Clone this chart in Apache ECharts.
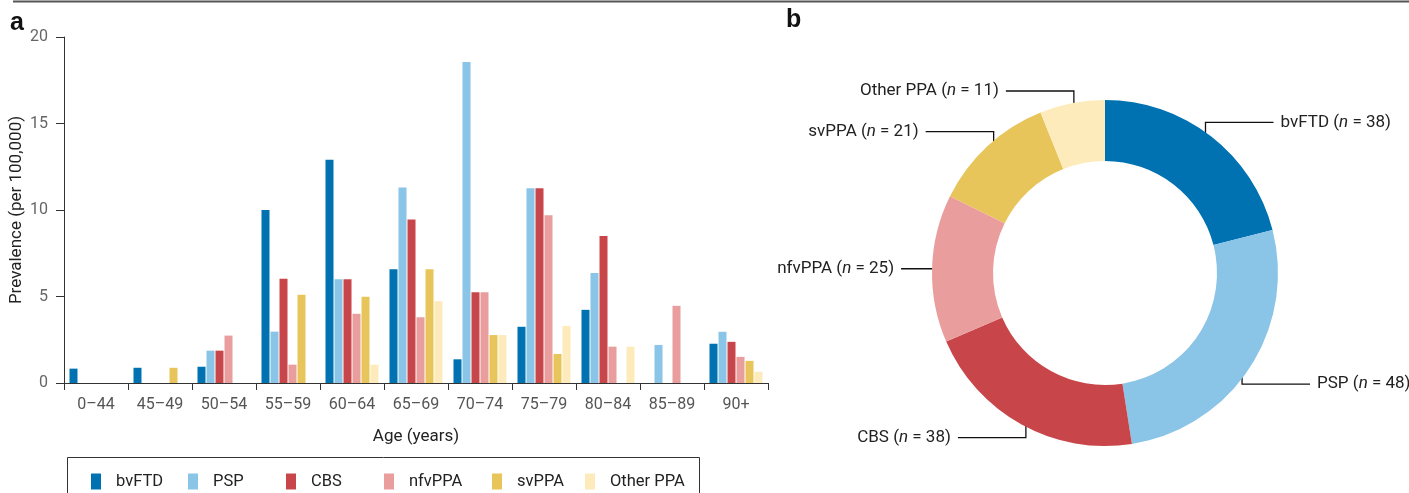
<!DOCTYPE html>
<html>
<head>
<meta charset="utf-8">
<script src="https://cdn.jsdelivr.net/npm/echarts@6/dist/echarts.min.js"></script>
<style>
html,body{margin:0;padding:0;background:#fff;}
#c{width:1409px;height:493px;}
</style>
</head>
<body>
<div id="c"></div>
<script>
// ---- data ----
const categories = ['0–44','45–49','50–54','55–59','60–64','65–69','70–74','75–79','80–84','85–89','90+'];
const seriesNames = ['bvFTD','PSP','CBS','nfvPPA','svPPA','Other PPA'];
const bvFTD    = [0.83, 0.88, 0.94, 10.0, 12.9, 6.57, 1.37, 3.25, 4.23, 0,    2.27];
const PSP      = [0,    0,    1.87, 2.97, 6.0,  11.3, 18.55,11.26,6.36, 2.2,  2.96];
const CBS      = [0,    0,    1.87, 6.03, 6.0,  9.45, 5.25, 11.26,8.5,  0,    2.38];
const nfvPPA   = [0,    0,    2.74, 1.06, 4.0,  3.8,  5.25, 9.7,  2.1,  4.46, 1.51];
const svPPA    = [0,    0.88, 0,    5.1,  4.99, 6.57, 2.77, 1.68, 0,    0,    1.28];
const otherPPA = [0,    0,    0,    0,    1.06, 4.73, 2.77, 3.3,  2.1,  0,    0.65];
const yTicks = [0, 5, 10, 15, 20];
const pieNames  = ['bvFTD','PSP','CBS','nfvPPA','svPPA','Other PPA'];
const pieCounts = [38, 48, 38, 25, 21, 11];

// ---- styles ----
const colors = ['#0072b1','#8ac4e7','#c8464a','#e99d9d','#e8c55a','#feebbb'];
const FONT = 'Roboto';
const barData = [bvFTD, PSP, CBS, nfvPPA, svPPA, otherPPA];

const CX = 1105, CY = 273, R0 = 112, R1 = 173, RS = 164;
const total = pieCounts.reduce((a,b)=>a+b,0);

const chart = echarts.init(document.getElementById('c'), null, {renderer:'canvas'});

const legendLefts = [86, 183, 281, 379, 487, 580];
const legends = seriesNames.map((n,i)=>({
  data:[n], left: legendLefts[i], top: 468, itemWidth: 10, itemHeight: 16, icon: 'rect',
  selectedMode: false,
  textStyle:{fontFamily: FONT, fontSize: 16.5, color:'#222', padding:[0,0,0,10]}
}));

const option = {
  animation: false,
  textStyle: {fontFamily: FONT},
  legend: legends,
  grid: {left: 64, right: 641, top: 37, bottom: 110, containLabel: false},
  xAxis: {
    type: 'category', data: categories,
    name: 'Age (years)', nameLocation: 'middle', nameGap: 45,
    nameTextStyle: {fontFamily: FONT, fontSize: 17, color: '#222'},
    axisLine: {lineStyle: {color: '#333', width: 1}},
    axisTick: {show: true, length: 7, lineStyle: {color: '#333'}},
    axisLabel: {fontFamily: FONT, fontSize: 16, color: '#555', margin: 14}
  },
  yAxis: {
    type: 'value', min: yTicks[0], max: yTicks[yTicks.length-1], interval: 5,
    name: 'Prevalence (per 100,000)', nameLocation: 'middle', nameGap: 39,
    nameTextStyle: {fontFamily: FONT, fontSize: 17, color: '#222'},
    axisLine: {show: true, lineStyle: {color: '#333', width: 1}},
    axisTick: {show: true, length: 8, lineStyle: {color: '#333'}},
    axisLabel: {fontFamily: FONT, fontSize: 16, color: '#666', margin: 16},
    splitLine: {show: false}
  },
  series: [
    ...barData.map((d,i)=>({
      type: 'bar', name: seriesNames[i], data: d,
      barWidth: 8, barGap: '12.5%',
      itemStyle: {color: colors[i]}
    })),
    {
      type: 'pie', name: 'pie',
      center: [CX, CY], radius: [R0, R1],
      startAngle: 90, clockwise: true,
      avoidLabelOverlap: false,
      data: pieNames.map((n,i)=>({name: n, value: pieCounts[i], itemStyle:{color: colors[i]}})),
      label: {
        show: true, position: 'outside',
        formatter: p => `{t|${p.name} (}{i|n}{t| = ${p.value})}`,
        rich: {
          t: {fontFamily: FONT, fontSize: 17, color: '#222'},
          i: {fontFamily: FONT, fontSize: 17, color: '#222', fontStyle: 'italic'}
        }
      },
      labelLine: {show: true, lineStyle: {color: '#111', width: 1.3}},
      labelLayout: function(p){
        const i = p.dataIndex;
        let before = 0;
        for (let k=0;k<i;k++) before += pieCounts[k];
        const mid = (before + pieCounts[i]/2) / total * Math.PI * 2;
        const sx = CX + RS*Math.sin(mid);
        const sy = CY - RS*Math.cos(mid);
        const dirX = Math.sin(mid) >= 0 ? 1 : -1;
        const dy = -Math.cos(mid);
        const vert = Math.abs(dy) > 0.2 ? 21*Math.sign(dy) : 0;
        const py = sy + vert;
        const hl = vert ? 68 : 40;
        const ex = sx + dirX*hl;
        return {
          x: ex + dirX*7, y: py,
          align: dirX > 0 ? 'left' : 'right', verticalAlign: 'middle',
          labelLinePoints: [[sx, sy], [sx, py], [ex, py]]
        };
      },
      emphasis: {disabled: true}
    }
  ],
  graphic: [
    {type:'line', shape:{x1:13, y1:1.5, x2:1409, y2:1.5}, style:{stroke:'#555', lineWidth:2}},
    {type:'text', left: 10, top: 11, style:{text:'a', font:'bold 25px "Liberation Sans"', fill:'#111'}},
    {type:'text', left: 786, top: 8, style:{text:'b', font:'bold 25px "Liberation Sans"', fill:'#111'}},
    {type:'rect', shape:{x:67.5, y:457.5, width:632, height:60}, style:{fill:'none', stroke:'#333', lineWidth:1}}
  ]
};
chart.setOption(option);
</script>
</body>
</html>
